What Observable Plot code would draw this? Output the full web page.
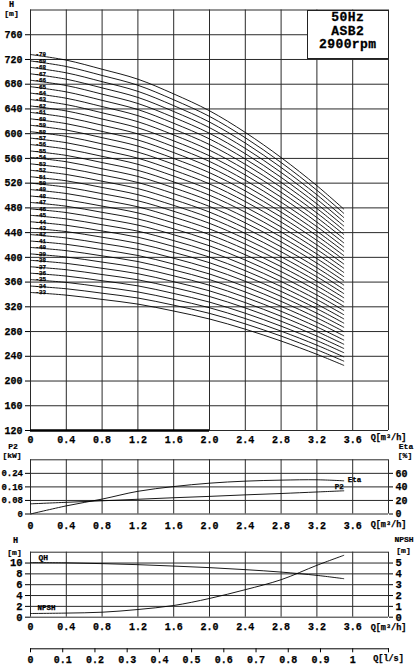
<!DOCTYPE html>
<html>
<head>
<meta charset="utf-8">
<script src="https://cdn.jsdelivr.net/npm/d3@7"></script>
<script src="https://cdn.jsdelivr.net/npm/@observablehq/plot@0.6"></script>
<style>
  body { margin: 0; background: #fff; }
  #wrap { position: relative; width: 418px; height: 668px; overflow: hidden; background: #fff;
          font-family: "Liberation Mono", monospace; font-weight: bold; color: #000; }
  #wrap svg { position: absolute; left: 0; background: transparent; }
  #wrap svg text { stroke: #000; stroke-width: 0.25px; }
  .lbl { position: absolute; transform: translate(-50%, -50%); white-space: nowrap; line-height: 1;
         -webkit-text-stroke: 0.2px #000; }
  #box { position: absolute; box-sizing: border-box; background: #fff; border: 1px solid #222;
         text-align: center; font-size: 13px; line-height: 13.5px; -webkit-text-stroke: 0.3px #000;
         letter-spacing: 0.4px; }
</style>
</head>
<body>
<div id="wrap"></div>
<script>
// ---------- data ----------
const flowQ = [0, 0.4, 0.8, 1.2, 1.6, 2.0, 2.4, 2.8, 3.2, 3.5];           // Q [m³/h]
const stages = [33,34,35,36,37,38,39,40,41,42,43,44,45,46,47,48,49,50,51,
                52,53,54,55,56,57,58,59,60,61,62,63,64,65,66,67,68,69,70];
const headPerStage = [10.40, 10.27, 10.06, 9.83, 9.49, 9.10, 8.60, 8.02, 7.37, 6.83]; // H [m] per stage
const p2kW   = [0.060, 0.069, 0.078, 0.087, 0.096, 0.104, 0.113, 0.121, 0.130, 0.137];
const etaPct = [0, 12, 22, 33.5, 40.5, 45.5, 48.5, 50, 50.5, 49];
const qhStage = [10.07, 10.03, 9.89, 9.70, 9.44, 9.15, 8.78, 8.33, 7.72, 7.11];
const npshM   = [0.34, 0.38, 0.46, 0.71, 1.08, 1.73, 2.54, 3.46, 4.79, 5.71];

// ---------- ticks ----------
const qTicks   = [0, 0.4, 0.8, 1.2, 1.6, 2.0, 2.4, 2.8, 3.2, 3.6, 4.0];
const hTicks   = [120,160,200,240,280,320,360,400,440,480,520,560,600,640,680,720,760,800];
const p2Ticks  = [0, 0.08, 0.16, 0.24, 0.32];
const etaTicks = [0, 20, 40, 60, 80];
const hTicks2  = [0, 2, 4, 6, 8, 10, 12];
const npshTicks = [0, 1, 2, 3, 4, 5, 6];
const lsTicks  = [0, 0.1, 0.2, 0.3, 0.4, 0.5, 0.6, 0.7, 0.8, 0.9, 1.0];
const m3hPerLs = 3.6;
const legendLines = ["50Hz", "ASB2", "2900rpm"];

// ---------- helpers ----------
const FONT = "Liberation Mono, monospace";
const baseStyle = {fontFamily: FONT, fontWeight: "bold", fontSize: "10px", background: "transparent", overflow: "visible"};
const GRID = {stroke: "#2a2a2a", strokeWidth: 1};
const qFmt = d => d === 0 ? "0" : d.toFixed(1);
const wrap = document.getElementById("wrap");
function place(svg, top) { svg.style.top = top + "px"; wrap.append(svg); }
function label(text, cx, cy, size) {
  const d = document.createElement("div");
  d.className = "lbl"; d.textContent = text;
  d.style.left = cx + "px"; d.style.top = cy + "px"; d.style.fontSize = size + "px";
  wrap.append(d);
}
const qMax = qTicks[qTicks.length - 1];

// ---------- panel 1 : H-Q curves for all stages ----------
const curves = stages.flatMap(n => flowQ.map((q, i) => ({n, q, h: n * headPerStage[i]})));
const p1 = Plot.plot({
  width: 418, height: 446, marginLeft: 30, marginRight: 30, marginTop: 9.5, marginBottom: 16,
  style: baseStyle,
  x: {domain: [0, qMax]}, y: {domain: [hTicks[0], hTicks[hTicks.length - 1]]},
  marks: [
    Plot.ruleX(qTicks, GRID),
    Plot.ruleY(hTicks, GRID),
    Plot.ruleY([hTicks[0]], {x1: qTicks[0], x2: qTicks[5], strokeWidth: 2.6, stroke: "#000"}),
    Plot.line(curves, {x: "q", y: "h", z: "n", curve: "catmull-rom", stroke: "#000", strokeWidth: 0.9}),
    Plot.text(stages, {x: () => flowQ[0], y: n => n * headPerStage[0], text: n => "-" + n,
      dx: 5, textAnchor: "start", fontSize: 5.8, fill: "#000"}),
    Plot.axisY(hTicks.slice(0, -1), {anchor: "left", tickSize: 5, tickPadding: 3, label: null, fontSize: 10}),
    Plot.axisX(qTicks.slice(0, -1), {anchor: "bottom", tickSize: 0, tickPadding: 5, tickFormat: qFmt, label: null, fontSize: 10}),
    Plot.text(["Q[m³/h]"], {x: () => qMax, frameAnchor: "bottom", dy: 9, fontSize: 8.5})
  ]
});
place(p1, 0);

// legend box (top right)
const box = document.createElement("div");
box.id = "box";
box.style.left = "307px"; box.style.top = "9.5px"; box.style.width = "81.5px"; box.style.height = "49.5px";
box.style.paddingTop = "0.5px";
box.innerHTML = legendLines.join("<br>");
wrap.append(box);
label("H", 11.5, 5, 8.5);
label("[m]", 11.5, 14, 8);

// ---------- panel 2 : P2 and Eta ----------
const k = p2Ticks[p2Ticks.length - 1] / etaTicks[etaTicks.length - 1];
const perf = flowQ.map((q, i) => ({q, p2: p2kW[i], eta: etaPct[i] * k}));
const last = perf[perf.length - 1];
const p2 = Plot.plot({
  width: 418, height: 100, marginLeft: 30, marginRight: 30, marginTop: 23.3, marginBottom: 22.5,
  style: baseStyle,
  x: {domain: [0, qMax]}, y: {domain: [0, p2Ticks[p2Ticks.length - 1]]},
  marks: [
    Plot.ruleX(qTicks, GRID),
    Plot.ruleY(p2Ticks, GRID),
    Plot.line(perf, {x: "q", y: "eta", curve: "catmull-rom", stroke: "#000", strokeWidth: 0.9}),
    Plot.line(perf, {x: "q", y: "p2", curve: "catmull-rom", stroke: "#000", strokeWidth: 0.9}),
    Plot.text([last], {x: "q", y: "eta", text: () => "Eta", dx: 4, dy: -1, textAnchor: "start", fontSize: 7.5}),
    Plot.text([last], {x: "q", y: "p2", text: () => "P2", dx: 0, dy: -4, textAnchor: "end", fontSize: 7.5}),
    Plot.axisY(p2Ticks.slice(0, -1), {anchor: "left", tickSize: 5, tickPadding: 2.5, label: null, fontSize: 9,
      tickFormat: d => d === 0 ? "0" : d.toFixed(2)}),
    Plot.axisY(etaTicks.slice(0, -1).map(e => e * k), {anchor: "right", tickSize: 4, tickPadding: 3, label: null, fontSize: 10,
      tickFormat: d => String(Math.round(d / k))}),
    Plot.axisX(qTicks.slice(0, -1), {anchor: "bottom", tickSize: 0, tickPadding: 8, tickFormat: qFmt, label: null, fontSize: 10}),
    Plot.text(["Q[m³/h]"], {x: () => qMax, frameAnchor: "bottom", dy: 12.5, fontSize: 8.5})
  ]
});
place(p2, 436);
label("P2", 13, 446.5, 8);
label("[kW]", 12, 455.5, 8);
label("Eta", 406, 446.5, 8);
label("[%]", 405, 455.5, 8);

// ---------- panel 3 : single stage QH and NPSH ----------
const k2 = hTicks2[hTicks2.length - 1] / npshTicks[npshTicks.length - 1];
const single = flowQ.map((q, i) => ({q, h: qhStage[i], npsh: npshM[i] * k2}));
const first = single[0];
const p3 = Plot.plot({
  width: 418, height: 100, marginLeft: 30, marginRight: 30, marginTop: 19.7, marginBottom: 15.3,
  style: baseStyle,
  x: {domain: [0, qMax]}, y: {domain: [0, hTicks2[hTicks2.length - 1]]},
  marks: [
    Plot.ruleX(qTicks, GRID),
    Plot.ruleY(hTicks2, GRID),
    Plot.line(single, {x: "q", y: "h", curve: "catmull-rom", stroke: "#000", strokeWidth: 0.9}),
    Plot.line(single, {x: "q", y: "npsh", curve: "catmull-rom", stroke: "#000", strokeWidth: 0.9}),
    Plot.text([first], {x: "q", y: "h", text: () => "QH", dx: 8, dy: -5.5, textAnchor: "start", fontSize: 8}),
    Plot.text([first], {x: "q", y: "npsh", text: () => "NPSH", dx: 7, dy: -5.5, textAnchor: "start", fontSize: 7.5}),
    Plot.axisY(hTicks2.slice(0, -1), {anchor: "left", tickSize: 5, tickPadding: 3, label: null, fontSize: 10.5}),
    Plot.axisY(npshTicks.slice(0, -1).map(v => v * k2), {anchor: "right", tickSize: 4, tickPadding: 3, label: null, fontSize: 10.5,
      tickFormat: d => String(Math.round(d / k2))}),
    Plot.axisX(qTicks.slice(0, -1), {anchor: "bottom", tickSize: 0, tickPadding: 5.5, tickFormat: qFmt, label: null, fontSize: 10}),
    Plot.text(["Q[m³/h]"], {x: () => qMax, frameAnchor: "bottom", dy: 13, fontSize: 8.5})
  ]
});
place(p3, 532);
label("H", 15.5, 541, 8.5);
label("[m]", 14.5, 553, 8);
label("NPSH", 404, 539.5, 8);
label("[m]", 403.5, 551, 8);

// ---------- panel 4 : Q in l/s ----------
const lsMax = qMax / m3hPerLs;
const p4 = Plot.plot({
  width: 418, height: 36, marginLeft: 30, marginRight: 30, marginTop: 4, marginBottom: 19.7,
  style: baseStyle,
  x: {domain: [0, lsMax]},
  marks: [
    Plot.frame({anchor: "bottom", stroke: "#000"}),
    Plot.axisX([...lsTicks, lsMax], {anchor: "bottom", tickSize: 4, tickPadding: 3.5, label: null, fontSize: 10,
      tickFormat: d => d === lsMax ? "" : (d === 0 ? "0" : d === 1 ? "1" : d.toFixed(1))}),
    Plot.text(["Q[l/s]"], {x: () => lsMax, frameAnchor: "bottom", dy: 12, fontSize: 8.5})
  ]
});
place(p4, 632);
</script>
</body>
</html>
